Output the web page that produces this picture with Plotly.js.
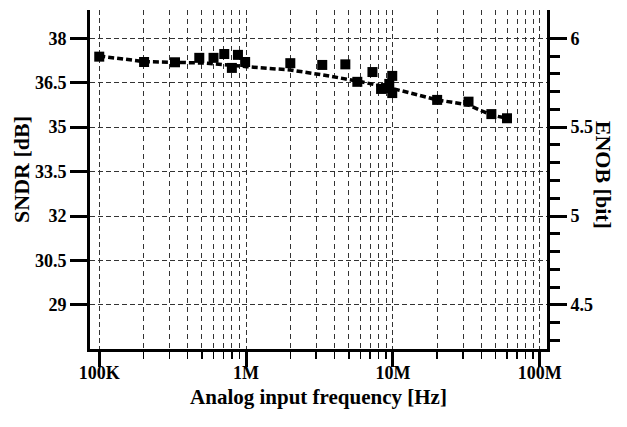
<!DOCTYPE html>
<html><head><meta charset="utf-8">
<script src="https://cdn.plot.ly/plotly-3.0.1.min.js"></script>
<style>html,body{margin:0;padding:0;background:#fff}#chart{width:627px;height:427px}</style>
</head><body><div id="chart"></div>
<script>
// Measured points (input frequency in Hz, SNDR in dB)
const freqHz = [1e5, 2.02e5, 3.28e5, 4.8e5, 6.0e5, 7.1e5, 8.0e5, 8.8e5, 9.85e5, 2.0e6, 3.3e6, 4.74e6, 5.72e6, 7.25e6, 8.3e6, 8.97e6, 9.44e6, 9.89e6, 9.89e6, 2.0e7, 3.27e7, 4.68e7, 5.98e7];
const sndrDb = [37.38, 37.20, 37.19, 37.34, 37.34, 37.47, 37.00, 37.44, 37.20, 37.16, 37.10, 37.12, 36.53, 36.86, 36.29, 36.32, 36.46, 36.73, 36.15, 35.92, 35.86, 35.44, 35.30];
// Dashed trend line
const trendHz = [1e5, 2.05e5, 3.28e5, 5.4e5, 1.01e6, 2.0e6, 3.35e6, 5.98e6, 9.84e6, 2.0e7, 3.26e7, 4.66e7, 5.98e7];
const trendDb = [37.40, 37.21, 37.19, 37.16, 37.04, 36.93, 36.76, 36.54, 36.31, 35.92, 35.75, 35.41, 35.30];
// Tick labels
const xTickVals = [1e5, 1e6, 1e7, 1e8];
const xTickText = ['100K', '1M', '10M', '100M'];
const sndrTicks = [29, 30.5, 32, 33.5, 35, 36.5, 38];
const enobTicks = [4.5, 5, 5.5, 6];
const xTitle = 'Analog input frequency [Hz]';
const yTitle = 'SNDR [dB]';
const y2Title = 'ENOB [bit]';

// ENOB axis tied to SNDR axis: 6 bit <-> 38 dB, 0.5 bit per 3 dB
const toEnob = d => 6 + (d - 38) / 6;
const sndrRange = [27.51, 38.955];
const enobRange = sndrRange.map(toEnob);

const minorX = [];
for (const dec of [1e5, 1e6, 1e7]) for (let k = 2; k <= 9; k++) minorX.push(dec * k);
const minorY2 = [];
for (let v = 43; v <= 60; v++) { const t = v / 10; if (!enobTicks.some(e => Math.abs(e - t) < 1e-9)) minorY2.push(t); }

const FONT = '"Liberation Serif", "Times New Roman", Times, serif';
const bold = (s) => ({family: FONT, size: s, color: '#000', weight: 'bold'});

const traces = [
  {x: trendHz, y: trendDb, type: 'scatter', mode: 'lines', line: {color: '#000', width: 3.5, dash: '6px,3px'}, hoverinfo: 'skip'},
  {x: freqHz, y: sndrDb, type: 'scatter', mode: 'markers', marker: {symbol: 'square', size: 10, color: '#000'}},
  {x: freqHz, y: sndrDb.map(toEnob), yaxis: 'y2', type: 'scatter', mode: 'markers', marker: {opacity: 0}, hoverinfo: 'skip'}
];

const gridCol = '#333';
const layout = {
  width: 627, height: 427,
  margin: {l: 90, r: 80, t: 10, b: 78, pad: 0},
  paper_bgcolor: '#fff', plot_bgcolor: '#fff',
  showlegend: false,
  font: bold(18),
  xaxis: {
    type: 'log', range: [4.937, 8.049],
    tickmode: 'array', tickvals: xTickVals, ticktext: xTickText,
    ticks: 'outside', ticklen: 15, tickwidth: 3, tickcolor: '#000',
    tickfont: bold(18), ticklabelstandoff: -10,
    showline: true, linewidth: 3, linecolor: '#000', mirror: false,
    showgrid: true, gridcolor: gridCol, gridwidth: 1, griddash: '5px,3px',
    zeroline: false,
    minor: {tickmode: 'array', tickvals: minorX, ticks: 'outside', ticklen: 7, tickwidth: 1.5, tickcolor: '#000',
            showgrid: true, gridcolor: gridCol, gridwidth: 1, griddash: '5px,4px'},
    title: {text: xTitle, font: bold(21), standoff: 8}
  },
  yaxis: {
    range: sndrRange, tickmode: 'array', tickvals: sndrTicks,
    ticks: 'outside', ticklen: 17, tickwidth: 3, tickcolor: '#000',
    tickfont: bold(18),
    showline: true, linewidth: 3, linecolor: '#000', mirror: false,
    showgrid: true, gridcolor: gridCol, gridwidth: 1, griddash: '5px,3px',
    zeroline: false
  },
  yaxis2: {
    overlaying: 'y', side: 'right', range: enobRange,
    tickmode: 'array', tickvals: enobTicks,
    ticks: 'outside', ticklen: 17, tickwidth: 3, tickcolor: '#000',
    tickfont: bold(18),
    showline: true, linewidth: 3, linecolor: '#000',
    showgrid: false, zeroline: false,
    minor: {tickmode: 'array', tickvals: minorY2, ticks: 'outside', ticklen: 10, tickwidth: 3, tickcolor: '#000', showgrid: false}
  },
  annotations: [
    {text: yTitle, xref: 'paper', yref: 'paper', x: -0.1489, y: 0.531, xanchor: 'center', yanchor: 'middle',
     textangle: -90, showarrow: false, font: bold(22)},
    {text: y2Title, xref: 'paper', yref: 'paper', x: 1.1255, y: 0.513, xanchor: 'center', yanchor: 'middle',
     textangle: 90, showarrow: false, font: bold(22)}
  ]
};

Plotly.newPlot('chart', traces, layout, {staticPlot: true, displayModeBar: false});
</script>
</body></html>
